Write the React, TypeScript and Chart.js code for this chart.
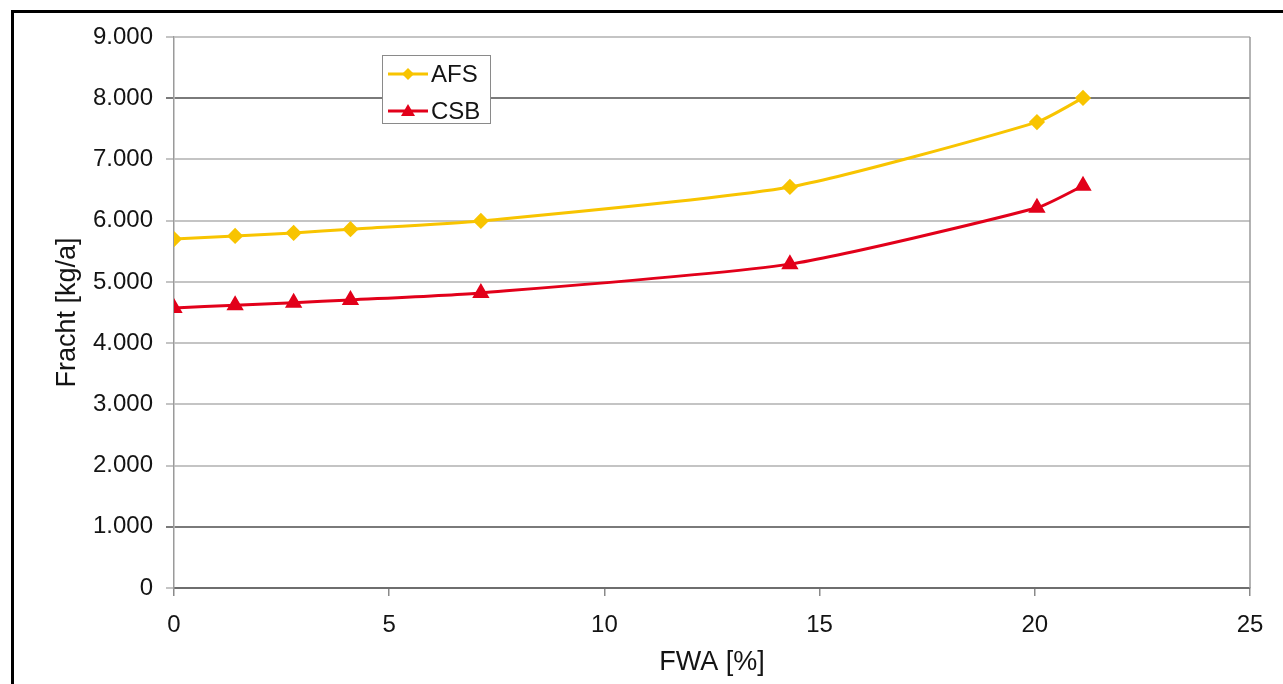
import React, { useEffect, useRef } from "react";
import { Chart, registerables } from "chart.js";

Chart.register(...registerables);

const fwaAFS = [0, 1.42, 2.78, 4.1, 7.13, 14.31, 20.05, 21.12];
const afsValues = [5700, 5750, 5800, 5860, 5995, 6550, 7610, 8005];
const fwaCSB = [0, 1.42, 2.78, 4.1, 7.13, 14.31, 20.05, 21.12];
const csbValues = [4575, 4620, 4660, 4705, 4820, 5290, 6210, 6570];
const seriesNames = ["AFS", "CSB"];
const seriesColors = ["#F8C400", "#E2001A"];
const xTitle = "FWA [%]";
const yTitle = "Fracht [kg/a]";
const darkGridValues = [8000, 1000];

const FONT = "'Liberation Sans', Arial, Helvetica, sans-serif";
const TEXT = "#141414";

const fmt = (v: number) => String(v).replace(/\B(?=(\d{3})+(?!\d))/g, ".");

const plotFrame = {
  id: "plotFrame",
  afterDraw(chart: any) {
    const { ctx, chartArea } = chart;
    ctx.save();
    ctx.strokeStyle = "#9a9a9a";
    ctx.lineWidth = 1.5;
    ctx.beginPath();
    ctx.moveTo(chartArea.right, chartArea.top);
    ctx.lineTo(chartArea.right, chartArea.bottom);
    ctx.stroke();
    ctx.restore();
  },
};

export default function App() {
  const ref = useRef<HTMLCanvasElement | null>(null);

  useEffect(() => {
    if (!ref.current) return;
    const chart = new Chart(ref.current, {
      type: "line",
      data: {
        datasets: [
          {
            label: seriesNames[0],
            data: fwaAFS.map((x, i) => ({ x, y: afsValues[i] })),
            borderColor: seriesColors[0],
            backgroundColor: seriesColors[0],
            borderWidth: 3,
            pointStyle: "rectRot",
            pointRadius: 6,
            tension: 0.2,
          },
          {
            label: seriesNames[1],
            data: fwaCSB.map((x, i) => ({ x, y: csbValues[i] })),
            borderColor: seriesColors[1],
            backgroundColor: seriesColors[1],
            borderWidth: 3,
            pointStyle: "triangle",
            pointRadius: 7,
            tension: 0.2,
          },
        ],
      },
      options: {
        animation: false,
        responsive: false,
        maintainAspectRatio: false,
        layout: { padding: { left: 0, top: 37, right: 33, bottom: 0 } },
        plugins: { legend: { display: false }, tooltip: { enabled: false } },
        scales: {
          x: {
            type: "linear",
            min: 0,
            max: 25,
            afterFit: (s: any) => {
              s.height = 96;
            },
            ticks: {
              stepSize: 5,
              padding: 15,
              color: TEXT,
              font: { family: FONT, size: 24 },
            },
            grid: {
              drawOnChartArea: false,
              drawTicks: true,
              tickLength: 8,
              color: "#8a8a8a",
              lineWidth: 1.5,
            },
            border: { color: "#6e6e6e", width: 2 },
            title: {
              display: true,
              text: xTitle,
              color: TEXT,
              font: { family: FONT, size: 27 },
              padding: { top: 0, bottom: 5 },
            },
          },
          y: {
            min: 0,
            max: 9000,
            afterFit: (s: any) => {
              s.width = 174;
            },
            ticks: {
              stepSize: 1000,
              padding: 13,
              color: TEXT,
              font: { family: FONT, size: 24 },
              callback: (v: any) => fmt(Number(v)),
            },
            grid: {
              tickLength: 8,
              color: (c: any) =>
                darkGridValues.includes(c.tick?.value) ? "#7a7a7a" : "#c4c4c4",
              lineWidth: 2,
            },
            border: { color: "#9a9a9a", width: 1.5 },
            title: {
              display: true,
              text: yTitle,
              color: TEXT,
              font: { family: FONT, size: 27 },
              padding: { top: 51, bottom: 0 },
            },
          },
        },
      },
      plugins: [plotFrame],
    });
    return () => chart.destroy();
  }, []);

  const legendRow = (i: number, top: number) => (
    <div
      key={i}
      style={{ position: "absolute", left: 0, top, height: 30, display: "flex", alignItems: "center" }}
    >
      <svg width={48} height={30} style={{ display: "block" }}>
        <line x1={5} y1={15} x2={45} y2={15} stroke={seriesColors[i]} strokeWidth={3} />
        {i === 0 ? (
          <polygon points="25,9 31,15 25,21 19,15" fill={seriesColors[i]} />
        ) : (
          <polygon points="25,8 32,20 18,20" fill={seriesColors[i]} />
        )}
      </svg>
      <span style={{ fontFamily: FONT, fontSize: 24, color: TEXT, lineHeight: "30px" }}>
        {seriesNames[i]}
      </span>
    </div>
  );

  return (
    <div style={{ position: "fixed", left: 0, top: 0, width: 1283, height: 684, background: "#fff", overflow: "hidden" }}>
      <div
        style={{
          position: "absolute",
          left: 11,
          top: 10,
          right: -10,
          bottom: -10,
          borderLeft: "3px solid #000",
          borderTop: "3px solid #000",
        }}
      />
      <canvas ref={ref} width={1283} height={684} style={{ position: "absolute", left: 0, top: 0 }} />
      <div
        style={{
          position: "absolute",
          left: 382,
          top: 55,
          width: 107,
          height: 67,
          border: "1.5px solid #8a8a8a",
          background: "#fff",
        }}
      >
        {legendRow(0, 3)}
        {legendRow(1, 40)}
      </div>
    </div>
  );
}
